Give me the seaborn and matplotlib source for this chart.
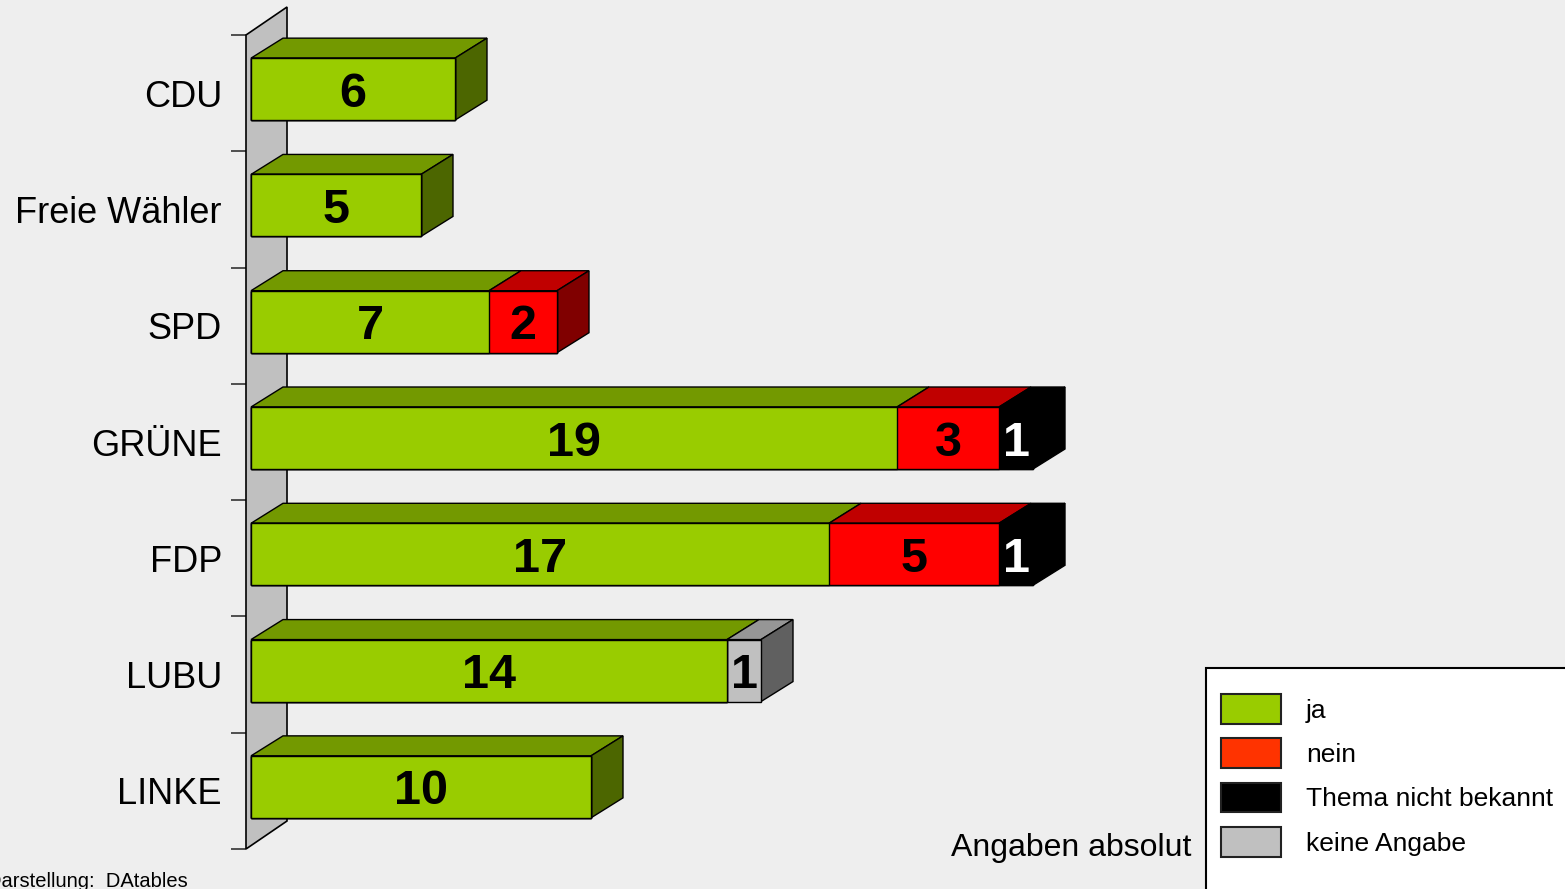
import numpy as np
import pandas as pd
import matplotlib
matplotlib.use('Agg')
import matplotlib.pyplot as plt
from matplotlib.patches import Polygon, Patch, Rectangle
import seaborn as sns

# --------------
# Data
# --------------
list_parties = ['CDU', 'Freie Wähler', 'SPD', 'GRÜNE', 'FDP', 'LUBU', 'LINKE']
list_ja = [6, 5, 7, 19, 17, 14, 10]
list_nein = [0, 0, 2, 3, 5, 0, 0]
list_unbekannt = [0, 0, 0, 1, 1, 0, 0]
list_keine = [0, 0, 0, 0, 0, 1, 0]
list_series = ['ja', 'nein', 'Thema nicht bekannt', 'keine Angabe']

# front, top, side, legend colour per series
dict_colors = {
    'ja': ('#99CC00', '#739900', '#4C6600', '#99CC00'),
    'nein': ('#FF0000', '#C00000', '#800000', '#FF3300'),
    'Thema nicht bekannt': ('#000000', '#000000', '#000000', '#000000'),
    'keine Angabe': ('#C0C0C0', '#969696', '#606060', '#C0C0C0'),
}
dict_text_colors = {'ja': 'black', 'nein': 'black',
                    'Thema nicht bekannt': 'white', 'keine Angabe': 'black'}

# bars sit slightly above the middle of their category band (3D look)
float_shift = 4 / 116.3

# long table with left/right edges of each segment
list_rows = []
for i, party in enumerate(list_parties):
    left = 0
    for s, vals in zip(list_series, [list_ja, list_nein, list_unbekannt, list_keine]):
        v = vals[i]
        list_rows.append({'party': party, 'pos': i - float_shift, 'series': s, 'value': v,
                          'left': left, 'right': left + v})
        left += v
df = pd.DataFrame(list_rows)

# --------------
# Figure
# --------------
sns.set_style('white')
plt.rcParams['font.family'] = ['Liberation Sans', 'DejaVu Sans']
plt.rcParams['text.color'] = 'black'
plt.rcParams['ytick.labelcolor'] = 'black'

fig = plt.figure(figsize=(15.65, 8.89), dpi=100, facecolor='#EEEEEE')
ax = fig.add_axes([246 / 1565, 40 / 889, 1319 / 1565, 814 / 889])
ax.set_facecolor('none')

float_bar_h = 62 / 116.3
float_dx = 32 / 34
float_dy = 20 / 116.3

# stacked front faces: draw cumulative totals from the back to the front
for s in reversed(list_series):
    df_s = df[df['series'] == s]
    sns.barplot(data=df_s, x='right', y='pos', orient='h', native_scale=True,
                color=dict_colors[s][0], saturation=1, width=float_bar_h,
                edgecolor='black', linewidth=1, errorbar=None, ax=ax, zorder=3)

ax.set_xlim(-5 / 34, 1314 / 34)
ax.set_ylim(6.5, -0.5)

# wall behind the bars
x0 = -5 / 34
wdx = 41 / 34
wdy = 28 / 116.3
ax.add_patch(Polygon([(x0, 6.5), (x0, -0.5), (x0 + wdx, -0.5 - wdy), (x0 + wdx, 6.5 - wdy)],
                     closed=True, facecolor='#C0C0C0', edgecolor='black', linewidth=1.2,
                     clip_on=False, zorder=1))

# top and side faces + labels
for party in list_parties:
    df_p = df[(df['party'] == party) & (df['value'] > 0)]
    yc = df_p['pos'].iloc[0]
    y_top = yc - float_bar_h / 2
    for _, row in df_p.iterrows():
        l, r = row['left'], row['right']
        ax.add_patch(Polygon([(l, y_top), (l + float_dx, y_top - float_dy),
                              (r + float_dx, y_top - float_dy), (r, y_top)],
                             closed=True, facecolor=dict_colors[row['series']][1],
                             edgecolor='black', linewidth=1, clip_on=False, zorder=2))
        ax.text((l + r) / 2, yc, str(row['value']), ha='center', va='center_baseline',
                fontsize=35, fontweight='bold', color=dict_text_colors[row['series']],
                zorder=5)
    row = df_p.iloc[-1]
    r = row['right']
    ax.add_patch(Polygon([(r, y_top), (r + float_dx, y_top - float_dy),
                          (r + float_dx, y_top + float_bar_h - float_dy), (r, y_top + float_bar_h)],
                         closed=True, facecolor=dict_colors[row['series']][2],
                         edgecolor='black', linewidth=1, clip_on=False, zorder=2))

# axes
for sp in ax.spines.values():
    sp.set_visible(False)
ax.set_xticks([])
ax.set_xlabel('')
ax.set_ylabel('')
ax.set_yticks(range(len(list_parties)))
ax.set_yticklabels(list_parties, fontsize=26, color='black')
ax.set_yticks(np.arange(-0.5, len(list_parties), 1), minor=True)
ax.tick_params(axis='y', which='major', length=0, pad=17.3)
ax.tick_params(axis='y', which='minor', length=10.8, width=1.2, color='#333333', left=True)

# legend
fig.add_artist(Rectangle((1206 / 1565, -0.01), 0.3, 221 / 889 + 0.01, transform=fig.transFigure,
                         facecolor='white', edgecolor='black', linewidth=1.5, zorder=0))
list_handles = [Patch(facecolor=dict_colors[s][3], edgecolor='#222222', linewidth=1.5)
                for s in list_series]
fig.legend(handles=list_handles, labels=list_series, loc='upper left',
           bbox_to_anchor=(1221 / 1565, (889 - 694) / 889), frameon=False,
           fontsize=19, handlelength=2.27, handleheight=1.36, handletextpad=0.95,
           labelspacing=0.55, borderpad=0, borderaxespad=0)

fig.text(1191 / 1565, (889 - 856) / 889, 'Angaben absolut', ha='right', va='baseline', fontsize=23)
fig.text(188 / 1565, 2 / 889, 'Darstellung:  DAtables', ha='right', va='baseline', fontsize=14.5)

plt.savefig('out.png', dpi=100, facecolor='#EEEEEE')
plt.close()
